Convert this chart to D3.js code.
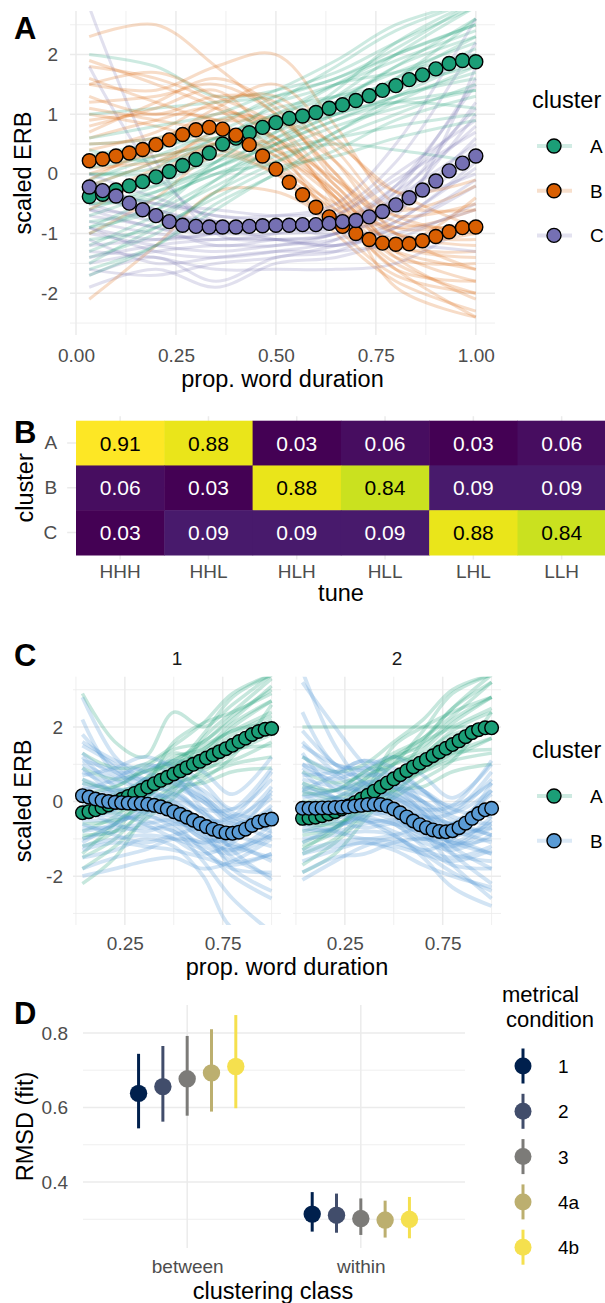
<!DOCTYPE html>
<html><head><meta charset="utf-8">
<script src="https://cdn.jsdelivr.net/npm/d3@7"></script>
<style>body{margin:0;background:#fff} svg{display:block} text{font-family:"Liberation Sans",Arial,Helvetica,sans-serif}</style>
</head><body><svg id="c" width="605" height="1303"></svg>
<script>
// ---------------- DATA ----------------
const clustersA = ["A","B","C"];
const clusterColorsA = ["#1B9E77","#D95F02","#7570B3"];
const tPts = d3.range(1,31).map(i=>i/30);
// Panel A mean trajectories (30 points each)
const meanA_A = [-0.38,-0.34,-0.27,-0.2,-0.13,-0.05,0.04,0.14,0.24,0.35,0.5,0.6,0.69,0.78,0.86,0.93,0.97,1.03,1.1,1.16,1.23,1.31,1.4,1.48,1.58,1.66,1.76,1.85,1.9,1.88];
const meanA_B = [0.22,0.25,0.3,0.35,0.41,0.49,0.57,0.66,0.74,0.78,0.75,0.65,0.49,0.3,0.08,-0.14,-0.35,-0.56,-0.72,-0.88,-1.0,-1.1,-1.16,-1.18,-1.17,-1.12,-1.05,-0.97,-0.9,-0.89];
const meanA_C = [-0.22,-0.28,-0.37,-0.49,-0.6,-0.7,-0.8,-0.86,-0.88,-0.89,-0.89,-0.89,-0.88,-0.87,-0.86,-0.86,-0.85,-0.85,-0.83,-0.8,-0.78,-0.72,-0.63,-0.52,-0.4,-0.27,-0.12,0.05,0.18,0.3];
// Individual trajectories (values at knotX)
const knotX = [0.033,0.2,0.35,0.5,0.65,0.8,1.0];
const bgA_A = [
 [2.0,1.8,1.3,1.4,1.7,2.2,2.8],[0.5,0.6,0.9,1.2,1.5,1.9,2.4],[-0.2,0.2,0.6,1.0,1.3,1.7,2.2],
 [-0.6,-0.2,0.3,0.8,1.2,1.8,2.6],[-1.0,-0.5,0.1,0.5,0.9,1.3,1.6],[-1.4,-1.0,-0.3,0.2,0.7,1.2,1.8],
 [-0.3,-0.1,0.4,0.9,1.1,1.4,2.0],[-1.6,-1.2,-0.6,0.0,0.4,0.9,1.3],[0.2,0.4,0.8,1.3,1.6,2.1,2.9],
 [-0.8,-0.6,-0.1,0.4,0.6,0.8,1.0],[0.0,0.0,0.2,0.6,1.0,1.5,2.1],[-1.2,-0.7,-0.2,0.3,0.5,0.4,0.2],
 [-0.5,-0.3,0.1,0.7,1.4,2.2,2.9],[1.0,1.1,1.2,1.3,1.6,2.0,2.5],[-0.9,-0.4,0.0,0.4,0.8,1.1,1.4],
 [-0.1,0.3,0.7,1.1,1.3,1.5,1.8],[-1.5,-0.9,-0.4,0.1,0.3,0.6,0.9],[0.3,0.5,0.6,0.9,1.2,1.6,2.6],
 [-1.3,-0.8,-0.1,0.6,1.1,1.6,2.3],[-0.7,-0.3,0.2,0.9,1.5,2.0,2.5],[-0.4,0.0,0.5,1.2,1.8,2.4,2.9],
 [0.1,0.3,0.5,0.8,1.0,1.3,1.7],[-1.1,-0.9,-0.3,0.5,1.0,1.2,1.1],[0.6,0.8,1.0,1.4,1.9,2.5,2.9],
 [-0.2,-0.2,0.1,0.5,0.9,1.2,1.4],[-0.9,-0.6,0.2,0.8,1.3,2.0,2.8],[0.4,0.2,0.4,0.7,1.2,1.8,2.3],
 [-1.7,-1.2,-0.5,0.0,0.6,1.0,1.5],[-0.5,-0.4,0.0,0.2,0.7,1.3,1.9],[0.0,0.1,0.6,1.0,1.5,1.7,2.0]];
const bgA_B = [
 [1.8,1.6,1.2,0.6,-0.3,-1.2,-1.3],[1.2,1.3,1.5,1.0,0.0,-0.9,-0.8],[0.6,0.9,1.1,0.6,-0.4,-1.4,-1.5],
 [0.2,0.5,0.8,0.3,-0.6,-1.5,-2.0],[-0.2,0.2,0.6,0.2,-0.7,-1.6,-2.4],[1.5,1.4,1.8,2.0,0.8,-0.5,-0.6],
 [0.9,1.0,0.9,0.1,-1.0,-1.8,-2.3],[-1.0,-0.4,0.3,0.0,-0.6,-1.1,-1.0],[-2.1,-1.2,-0.3,-0.3,-0.8,-1.3,-1.6],
 [0.0,0.4,1.0,0.8,-0.2,-1.0,-1.2],[1.0,0.8,0.5,0.1,-0.5,-0.9,-0.6],[0.4,0.7,1.2,1.3,0.4,-0.6,-0.2],
 [2.3,2.5,1.8,1.0,0.2,-0.7,-1.0],[-0.6,0.0,0.5,0.4,-0.4,-1.9,-2.4],[0.8,1.1,1.4,0.5,-0.8,-1.2,-0.4],
 [1.6,1.2,0.9,0.9,0.5,-0.3,-0.9],[1.3,1.0,1.3,1.2,0.2,-1.0,-1.6],[0.5,0.6,0.9,0.9,0.0,-1.3,-1.8],
 [0.1,0.2,0.4,0.0,-0.9,-1.7,-2.0],[1.9,1.5,1.1,0.4,-0.4,-1.0,-1.1],[-0.4,0.1,0.7,0.6,-0.2,-1.2,-1.4],
 [0.7,1.2,1.6,1.1,-0.1,-0.8,-0.9],[1.1,0.9,0.7,0.3,-0.3,-1.4,-2.1],[0.3,0.3,0.5,0.5,-0.1,-0.7,-0.5],
 [1.5,1.7,1.3,0.8,-0.5,-1.6,-1.8],[-0.1,0.5,1.1,1.5,0.6,-0.3,-0.1]];
const bgA_C = [
 [1.8,0.0,-0.8,-0.9,-1.0,-0.6,0.6],[2.8,0.2,-1.0,-1.1,-1.0,-0.4,1.2],[-0.3,-0.7,-0.8,-0.8,-0.8,-0.3,0.8],
 [-0.6,-0.9,-1.0,-1.0,-0.9,-0.2,1.5],[-1.0,-1.2,-1.3,-1.2,-1.1,-0.8,0.2],[-1.9,-1.6,-1.9,-1.5,-1.4,-1.1,-0.5],
 [-0.2,-0.5,-0.6,-0.7,-0.6,0.2,2.2],[-1.3,-1.4,-1.6,-1.6,-1.6,-1.5,-0.8],[-0.8,-1.0,-1.1,-1.0,-0.7,0.0,0.9],
 [-0.5,-0.8,-0.9,-1.1,-1.2,-0.9,-0.2],[-1.5,-1.3,-1.2,-1.2,-1.0,-0.5,0.4],[0.0,-0.4,-0.7,-0.7,-0.5,0.5,2.6],
 [-1.1,-1.5,-1.4,-1.3,-1.3,-1.2,-1.3],[-0.4,-0.6,-0.9,-0.9,-0.8,-0.5,0.0],[-1.7,-1.4,-1.8,-1.4,-1.3,-0.8,0.1],
 [-0.9,-1.1,-1.0,-0.8,-0.9,-0.7,1.8],[-0.7,-0.9,-1.2,-1.1,-1.0,-0.4,0.5],[-1.2,-1.1,-1.0,-0.9,-0.8,-0.2,1.1],
 [-0.3,-0.5,-0.7,-0.8,-0.9,-0.6,0.3],[-1.6,-1.7,-1.5,-1.4,-1.2,-0.9,-0.1],[-0.9,-1.3,-1.4,-1.3,-1.1,-0.3,1.6],
 [-0.1,-0.6,-0.8,-0.9,-0.7,-0.1,0.7],[-1.4,-1.2,-1.1,-1.1,-1.2,-1.0,-0.6],[-0.6,-0.7,-0.8,-0.9,-0.9,-0.5,1.0]];
const yTicksA = [-2,-1,0,1,2];
const xTicksA = [0,0.25,0.5,0.75,1];

// Panel B heatmap
const tunes = ["HHH","HHL","HLH","HLL","LHL","LLH"];
const rowsB = ["A","B","C"];
const propA = [0.91,0.88,0.03,0.06,0.03,0.06];
const propB = [0.06,0.03,0.88,0.84,0.09,0.09];
const propC = [0.03,0.09,0.09,0.09,0.88,0.84];

// Panel C
const facetsC = ["1","2"];
const clustersC = ["A","B"];
const clusterColorsC = ["#1B9E77","#5A9BD5"];
const meanC1_A = [-0.3,-0.27,-0.22,-0.16,-0.09,-0.02,0.06,0.14,0.22,0.3,0.39,0.48,0.57,0.65,0.74,0.82,0.91,1.0,1.08,1.17,1.25,1.34,1.42,1.51,1.61,1.7,1.8,1.88,1.94,1.96];
const meanC1_B = [0.16,0.12,0.07,0.03,0.0,-0.02,-0.03,-0.04,-0.05,-0.05,-0.07,-0.1,-0.14,-0.2,-0.27,-0.34,-0.42,-0.5,-0.59,-0.67,-0.74,-0.8,-0.84,-0.85,-0.82,-0.74,-0.64,-0.55,-0.5,-0.47];
const meanC2_A = [-0.45,-0.44,-0.42,-0.38,-0.33,-0.27,-0.2,-0.12,-0.03,0.07,0.17,0.28,0.39,0.5,0.61,0.72,0.83,0.93,1.03,1.13,1.23,1.33,1.43,1.53,1.63,1.74,1.85,1.93,1.98,1.98];
const meanC2_B = [-0.18,-0.18,-0.18,-0.17,-0.17,-0.16,-0.15,-0.14,-0.12,-0.1,-0.08,-0.07,-0.08,-0.12,-0.2,-0.3,-0.41,-0.52,-0.62,-0.7,-0.76,-0.8,-0.81,-0.78,-0.7,-0.58,-0.45,-0.32,-0.22,-0.18];
const bgC1_B = [
 [2.8,1.2,0.6,0.4,0.0,-0.6,-0.2],[2.2,0.8,0.9,1.0,0.5,-0.2,0.6],[1.5,1.0,0.5,0.2,-0.3,-0.9,-0.4],
 [1.0,0.6,0.3,-0.1,-0.6,-1.2,-0.9],[0.5,0.2,0.1,-0.3,-0.9,-1.6,-1.4],[0.0,-0.2,-0.1,-0.4,-1.0,-1.0,-0.3],
 [-0.5,-0.5,-0.4,-0.6,-1.3,-1.8,-1.9],[-1.0,-0.8,-0.7,-0.8,-1.6,-2.6,-3.5],[-1.5,-1.3,-1.0,-1.2,-2.0,-3.4,-3.6],
 [-2.0,-1.8,-1.6,-1.5,-1.8,-1.6,-1.0],[0.8,0.5,0.8,1.1,0.8,0.2,1.2],[-0.2,0.0,0.3,0.3,-0.4,-1.3,-2.1],
 [0.3,0.6,1.0,0.7,-0.2,-0.8,0.3],[-0.8,-0.6,-0.2,0.0,-0.5,-0.4,0.8],[1.2,0.4,0.0,-0.4,-0.8,-1.1,-1.6],
 [-1.2,-1.0,-0.9,-1.0,-1.3,-2.0,-2.6],[0.2,-0.1,-0.3,-0.7,-1.1,-0.7,0.1],[-0.4,-0.2,0.6,0.5,0.1,-0.4,-0.8],
 [1.8,0.9,0.4,0.0,-0.5,-0.8,-0.1],[1.3,0.7,0.6,0.6,0.1,-0.5,0.4],[0.6,0.3,0.2,0.1,-0.3,-0.7,-0.6],
 [0.9,0.2,-0.2,-0.5,-1.0,-1.3,-0.8],[-0.3,-0.4,-0.5,-0.8,-1.2,-1.4,-0.9],[-0.7,-0.7,-0.6,-0.5,-0.9,-1.2,-1.5],
 [-1.3,-1.1,-1.2,-1.3,-1.5,-1.7,-1.4],[-1.8,-1.5,-1.3,-1.0,-1.1,-1.3,-0.6],[0.1,0.3,0.4,0.6,0.3,-0.3,-0.5],
 [-0.1,-0.3,-0.6,-1.0,-1.4,-1.1,-0.2],[0.4,0.0,-0.1,-0.2,-0.7,-1.5,-2.0],[1.6,1.1,0.8,0.5,0.0,-0.4,0.2],
 [-0.6,-0.9,-1.1,-0.9,-0.7,-0.9,-1.2],[0.7,0.9,1.2,0.9,0.2,-0.5,-0.7],[-1.1,-0.6,-0.3,-0.2,-0.6,-1.0,-0.4],
 [0.3,-0.1,0.0,0.2,-0.2,-0.2,0.9],[-0.2,-0.6,-0.8,-0.6,-0.8,-1.8,-2.4],[1.1,0.8,0.2,-0.3,-0.5,-0.6,-1.0]];
const bgC1_A = [
 [2.9,1.6,1.2,2.4,2.0,2.6,3.4],[0.5,0.4,0.9,1.4,1.6,2.3,3.0],[-0.4,-0.2,0.4,1.0,1.3,2.0,2.7],
 [-1.0,-0.6,0.0,0.8,1.0,1.6,2.2],[-2.2,-1.5,-0.4,0.4,0.8,1.3,1.8],[-0.8,-0.4,0.2,0.6,1.7,2.4,3.3],
 [0.0,0.2,0.6,1.3,1.1,1.4,1.5],[-1.5,-1.0,-0.2,0.2,0.6,1.2,2.6],[0.2,0.0,0.3,0.9,1.8,2.8,3.4],
 [-0.6,-0.5,-0.1,0.4,0.5,0.8,0.9],[-1.2,-0.8,0.3,1.6,2.1,2.4,2.9],[0.9,0.6,0.8,1.0,1.4,1.9,2.1],
 [-0.3,0.0,0.6,1.1,1.5,1.9,2.4],[-1.8,-1.2,-0.5,0.1,0.9,1.6,2.0],[0.6,0.3,0.5,1.2,1.4,2.1,2.7],
 [-0.9,-0.8,-0.3,0.3,1.2,1.8,2.3],[-0.1,-0.3,0.1,0.7,0.9,1.1,1.6],[1.3,0.9,1.0,1.5,2.1,2.9,3.4],
 [-1.4,-0.6,0.1,0.5,0.7,1.0,1.2],[0.2,0.4,0.8,1.1,1.6,2.2,3.1]];
const bgC2_B = [
 [3.5,1.5,0.5,0.3,-0.2,-0.6,0.0],[2.4,1.0,0.9,0.8,0.3,-0.2,0.8],[1.6,0.8,0.4,0.2,-0.3,-0.9,-0.6],
 [1.0,0.5,0.2,0.0,-0.6,-1.1,-1.0],[0.5,0.1,0.0,-0.3,-0.8,-1.4,-1.6],[0.0,-0.3,-0.2,-0.4,-1.0,-0.9,-0.2],
 [-0.5,-0.6,-0.5,-0.6,-1.2,-1.7,-1.8],[-1.0,-0.9,-0.8,-0.9,-1.5,-2.3,-2.8],[-1.6,-1.3,-1.1,-1.3,-1.7,-2.0,-2.3],
 [-2.1,-1.6,-1.2,-1.0,-1.3,-1.5,-1.2],[0.9,0.6,0.9,1.2,0.7,0.1,1.0],[-0.2,0.1,0.4,0.4,-0.3,-1.2,-1.8],
 [0.3,0.7,1.1,0.6,-0.1,-0.7,0.5],[-0.8,-0.7,-0.3,0.1,-0.4,-0.3,0.6],[1.3,0.3,0.1,-0.3,-0.7,-1.0,-1.4],
 [-1.3,-1.1,-1.0,-1.1,-1.4,-1.9,-2.4],[0.2,-0.2,-0.4,-0.6,-1.0,-0.6,0.2],[-0.4,-0.3,0.5,0.4,0.0,-0.5,-0.9],
 [1.9,1.0,0.5,0.1,-0.4,-0.7,0.0],[1.2,0.8,0.7,0.7,0.0,-0.6,0.3],[0.6,0.4,0.3,0.1,-0.3,-0.8,-0.7],
 [0.8,0.1,-0.2,-0.5,-0.9,-1.2,-0.7],[-0.3,-0.4,-0.5,-0.8,-1.1,-1.3,-0.9],[-0.7,-0.8,-0.6,-0.5,-0.8,-1.1,-1.4],
 [-1.4,-1.2,-1.1,-1.2,-1.4,-1.6,-1.3],[-1.9,-1.5,-1.4,-1.1,-1.0,-1.2,-0.5],[0.1,0.3,0.5,0.6,0.3,-0.2,-0.4],
 [-0.1,-0.3,-0.5,-0.9,-1.3,-1.0,-0.1],[0.4,0.1,0.0,-0.2,-0.6,-1.4,-2.2],[1.5,1.0,0.8,0.4,0.0,-0.3,0.3],
 [-0.6,-0.8,-1.0,-0.9,-0.7,-0.8,-1.1],[0.7,0.8,1.1,0.9,0.3,-0.4,-0.6],[-1.1,-0.7,-0.4,-0.3,-0.6,-1.1,-0.4],
 [0.3,0.0,0.1,0.2,-0.2,-0.1,1.1],[-0.2,-0.5,-0.7,-0.6,-0.9,-1.7,-2.6],[1.0,0.7,0.2,-0.2,-0.4,-0.6,-0.9],
 [3.2,2.0,1.0,0.5,0.2,-0.1,0.5]];
const bgC2_A = [
 [2.0,2.0,2.0,2.0,2.0,2.0,2.0],[0.4,0.3,0.8,1.3,1.7,2.5,3.2],[-0.5,-0.3,0.3,1.0,1.4,2.1,2.8],
 [-1.1,-0.7,-0.1,0.7,1.1,1.6,2.1],[-1.9,-1.4,-0.5,0.3,0.8,1.3,1.7],[-0.8,-0.5,0.1,0.6,1.6,2.5,3.4],
 [0.0,0.1,0.6,1.2,1.0,1.3,1.4],[-1.4,-1.0,-0.3,0.1,0.6,1.1,2.4],[0.3,0.1,0.4,1.0,1.9,2.9,3.4],
 [-0.6,-0.6,-0.2,0.3,0.4,0.8,1.0],[-1.2,-0.8,0.2,1.5,2.0,2.4,2.8],[0.8,0.5,0.7,1.0,1.3,1.8,2.0],
 [-0.3,-0.1,0.5,1.1,1.6,2.0,2.5],[-1.7,-1.1,-0.4,0.2,0.9,1.5,2.1],[0.5,0.3,0.6,1.2,1.5,2.2,2.8],
 [-0.9,-0.7,-0.2,0.4,1.2,1.9,2.4],[-0.1,-0.2,0.1,0.7,0.9,1.2,1.7],[1.2,0.8,1.0,1.6,2.2,3.0,3.4],
 [-1.3,-0.7,0.0,0.5,0.8,1.1,1.3],[0.2,0.3,0.8,1.2,1.7,2.3,3.2]];
const yTicksC = [-2,0,2];
const xTicksC = [0.25,0.75];

// Panel D
const classesD = ["between","within"];
const conditionsD = ["1","2","3","4a","4b"];
const condColorsD = ["#00204D","#414D6B","#7C7B78","#BCAF6F","#F5E04E"];
const fitBetween = [0.638,0.656,0.677,0.693,0.710];
const lowBetween = [0.544,0.562,0.578,0.589,0.598];
const highBetween = [0.744,0.765,0.792,0.810,0.848];
const fitWithin = [0.314,0.311,0.302,0.298,0.300];
const lowWithin = [0.267,0.264,0.258,0.251,0.249];
const highWithin = [0.373,0.369,0.356,0.350,0.360];
const yTicksD = [0.4,0.6,0.8];

// ---------------- DRAWING ----------------
const svg = d3.select("#c");
const GRID = "#EBEBEB", TICK = "#4D4D4D";
const TFS = 19, AFS = 23.5, PFS = 31;
const hy = d => String(d);   // plain hyphen-minus like the reference

function grid(g, x0, x1, y0, y1, xs, ys, sx, sy, w) {
  xs.forEach(v => g.append("line").attr("x1", sx(v)).attr("x2", sx(v)).attr("y1", y0).attr("y2", y1)
    .attr("stroke", GRID).attr("stroke-width", w));
  ys.forEach(v => g.append("line").attr("y1", sy(v)).attr("y2", sy(v)).attr("x1", x0).attr("x2", x1)
    .attr("stroke", GRID).attr("stroke-width", w));
}
function styleAxis(a) {
  a.select(".domain").remove();
  a.selectAll(".tick line").remove();
  a.attr("font-family", null);
  a.selectAll("text").attr("font-size", TFS).attr("fill", TICK);
}
function panelLabel(t, y) {
  svg.append("text").attr("x", 14).attr("y", y).attr("font-size", PFS).attr("font-weight", "bold").text(t);
}
function yTitle(t, x, y) {
  svg.append("text").attr("transform", `translate(${x},${y}) rotate(-90)`).attr("text-anchor", "middle")
    .attr("font-size", AFS).text(t);
}
function xTitle(t, x, y) {
  svg.append("text").attr("x", x).attr("y", y).attr("text-anchor", "middle").attr("font-size", AFS).text(t);
}

// ===== Panel A =====
{
  const L = 70, R = 495, T = 11, B = 335;
  const x = d3.scaleLinear().domain([-0.015, 1.048]).range([L, R]);
  const y = d3.scaleLinear().domain([-2.7, 2.73]).range([B, T]);
  const g = svg.append("g");
  grid(g, L, R, T, B, [0.125,0.375,0.625,0.875], [-2.5,-1.5,-0.5,0.5,1.5,2.5], x, y, 0.8);
  grid(g, L, R, T, B, xTicksA, yTicksA, x, y, 1.5);
  svg.append("clipPath").attr("id", "clipA").append("rect").attr("x", L).attr("y", T).attr("width", R - L).attr("height", B - T);
  const lg = svg.append("g").attr("clip-path", "url(#clipA)");
  const line = d3.line().x((d, i) => x(knotX[i])).y(d => y(d)).curve(d3.curveCatmullRom.alpha(0.5));
  const bgs = [bgA_A, bgA_B, bgA_C];
  const maxN = d3.max(bgs, b => b.length);
  for (let k = 0; k < maxN; k++) {
    bgs.forEach((b, ci) => {
      if (b[k]) lg.append("path").attr("d", line(b[k])).attr("fill", "none")
        .attr("stroke", clusterColorsA[ci]).attr("stroke-opacity", 0.22).attr("stroke-width", 3);
    });
  }
  [meanA_A, meanA_B, meanA_C].forEach((m, ci) => {
    lg.append("g").selectAll("circle").data(m).join("circle")
      .attr("cx", (d, i) => x(tPts[i])).attr("cy", d => y(d)).attr("r", 7)
      .attr("fill", clusterColorsA[ci]).attr("stroke", "#000").attr("stroke-width", 1.4);
  });
  const ax = svg.append("g").attr("transform", `translate(0,${B})`)
    .call(d3.axisBottom(x).tickValues(xTicksA).tickFormat(d3.format(".2f")).tickSize(0).tickPadding(13.5));
  styleAxis(ax);
  const ay = svg.append("g").attr("transform", `translate(${L},0)`)
    .call(d3.axisLeft(y).tickValues(yTicksA).tickFormat(hy).tickSize(0).tickPadding(12));
  styleAxis(ay);
  xTitle("prop. word duration", (L + R) / 2, 387);
  yTitle("scaled ERB", 31, (T + B) / 2);
  panelLabel("A", 39);
  svg.append("text").attr("x", 532).attr("y", 108).attr("font-size", AFS).text("cluster");
  clustersA.forEach((c, i) => {
    const yy = 146 + i * 44.7;
    svg.append("line").attr("x1", 537).attr("x2", 572).attr("y1", yy).attr("y2", yy)
      .attr("stroke", clusterColorsA[i]).attr("stroke-opacity", 0.2).attr("stroke-width", 4);
    svg.append("circle").attr("cx", 554).attr("cy", yy).attr("r", 7).attr("fill", clusterColorsA[i])
      .attr("stroke", "#000").attr("stroke-width", 1.4);
    svg.append("text").attr("x", 590).attr("y", yy + 7).attr("font-size", TFS).attr("fill", "#000").text(c);
  });
}

// ===== Panel B =====
{
  const x = d3.scaleBand().domain(tunes).range([76, 76 + 6 * 88.3]);
  const y = d3.scaleBand().domain(rowsB).range([420.7, 555]);
  const L = 76 - 0.1 * x.bandwidth(), R = 605, T = 420.7 - 0.1 * y.bandwidth(), B = 555 + 0.1 * y.bandwidth();
  const g = svg.append("g");
  tunes.forEach(t => g.append("line").attr("x1", x(t) + x.bandwidth() / 2).attr("x2", x(t) + x.bandwidth() / 2)
    .attr("y1", T).attr("y2", B).attr("stroke", GRID).attr("stroke-width", 1.5));
  rowsB.forEach(r => g.append("line").attr("y1", y(r) + y.bandwidth() / 2).attr("y2", y(r) + y.bandwidth() / 2)
    .attr("x1", L).attr("x2", R).attr("stroke", GRID).attr("stroke-width", 1.5));
  const color = d3.scaleSequential(d3.interpolateViridis).domain([0.03, 0.91]);
  const cells = [];
  [propA, propB, propC].forEach((arr, ri) => arr.forEach((v, ci) => cells.push({ r: rowsB[ri], t: tunes[ci], v })));
  g.selectAll("rect.cell").data(cells).join("rect").attr("class", "cell")
    .attr("x", d => x(d.t)).attr("y", d => y(d.r)).attr("width", x.bandwidth() + 0.5).attr("height", y.bandwidth() + 0.5)
    .attr("fill", d => color(d.v));
  g.selectAll("text.val").data(cells).join("text").attr("class", "val")
    .attr("x", d => x(d.t) + x.bandwidth() / 2).attr("y", d => y(d.r) + y.bandwidth() / 2 + 7.5)
    .attr("text-anchor", "middle").attr("font-size", 21)
    .attr("fill", d => d.v > 0.5 ? "#000" : "#fff").text(d => d3.format(".2f")(d.v));
  const ax = svg.append("g").attr("transform", `translate(0,${B})`)
    .call(d3.axisBottom(x).tickSize(0).tickPadding(5));
  styleAxis(ax);
  const ay = svg.append("g").attr("transform", `translate(${L},0)`)
    .call(d3.axisLeft(y).tickSize(0).tickPadding(10));
  styleAxis(ay);
  xTitle("tune", (L + 614.8) / 2, 601);
  yTitle("cluster", 33, (420.7 + 555) / 2);
  panelLabel("B", 443);
}

// ===== Panel C =====
{
  const T = 676.7, B = 925;
  const y = d3.scaleLinear().domain([-3.31, 3.35]).range([B, T]);
  const ranges = [[73, 281], [293, 501]];
  const means = [[meanC1_A, meanC1_B], [meanC2_A, meanC2_B]];
  const bgs = [[bgC1_A, bgC1_B], [bgC2_A, bgC2_B]];
  facetsC.forEach((f, fi) => {
    const [L, R] = ranges[fi];
    const x = d3.scaleLinear().domain([-0.015, 1.048]).range([L, R]);
    const g = svg.append("g");
    grid(g, L, R, T, B, [0, 0.5, 1], [-3, -1, 1, 3], x, y, 0.8);
    grid(g, L, R, T, B, xTicksC, yTicksC, x, y, 1.5);
    svg.append("clipPath").attr("id", "clipC" + fi).append("rect").attr("x", L).attr("y", T).attr("width", R - L).attr("height", B - T);
    const lg = svg.append("g").attr("clip-path", `url(#clipC${fi})`);
    const line = d3.line().x((d, i) => x(knotX[i])).y(d => y(d)).curve(d3.curveCatmullRom.alpha(0.5));
    const [ba, bb] = bgs[fi];
    const n = Math.max(ba.length, bb.length);
    for (let k = 0; k < n; k++) {
      if (bb[k]) lg.append("path").attr("d", line(bb[k])).attr("fill", "none")
        .attr("stroke", clusterColorsC[1]).attr("stroke-opacity", 0.27).attr("stroke-width", 3.8);
      if (ba[k]) lg.append("path").attr("d", line(ba[k])).attr("fill", "none")
        .attr("stroke", clusterColorsC[0]).attr("stroke-opacity", 0.25).attr("stroke-width", 3.5);
    }
    means[fi].forEach((m, ci) => {
      svg.append("g").selectAll("circle").data(m).join("circle")
        .attr("cx", (d, i) => x(tPts[i])).attr("cy", d => y(d)).attr("r", 6.8)
        .attr("fill", clusterColorsC[ci]).attr("stroke", "#000").attr("stroke-width", 1.4);
    });
    const ax = svg.append("g").attr("transform", `translate(0,${B})`)
      .call(d3.axisBottom(x).tickValues(xTicksC).tickFormat(d3.format(".2f")).tickSize(0).tickPadding(11.5));
    styleAxis(ax);
    if (fi === 0) {
      const ay = svg.append("g").attr("transform", `translate(${L},0)`)
        .call(d3.axisLeft(y).tickValues(yTicksC).tickFormat(hy).tickSize(0).tickPadding(10));
      styleAxis(ay);
    }
    svg.append("text").attr("x", (L + R) / 2).attr("y", 665).attr("text-anchor", "middle")
      .attr("font-size", TFS).attr("fill", "#1A1A1A").text(f);
  });
  xTitle("prop. word duration", 287, 975);
  yTitle("scaled ERB", 31, (T + B) / 2);
  panelLabel("C", 666);
  svg.append("text").attr("x", 532).attr("y", 758).attr("font-size", AFS).text("cluster");
  clustersC.forEach((c, i) => {
    const yy = 796 + i * 44.7;
    svg.append("line").attr("x1", 537).attr("x2", 572).attr("y1", yy).attr("y2", yy)
      .attr("stroke", clusterColorsC[i]).attr("stroke-opacity", 0.22).attr("stroke-width", 4);
    svg.append("circle").attr("cx", 554).attr("cy", yy).attr("r", 7).attr("fill", clusterColorsC[i])
      .attr("stroke", "#000").attr("stroke-width", 1.4);
    svg.append("text").attr("x", 590).attr("y", yy + 7).attr("font-size", TFS).text(c);
  });
}

// ===== Panel D =====
{
  const L = 83, R = 465, T = 1005, B = 1248;
  const x = d3.scalePoint().domain(classesD).range([L, R]).padding(0.6);
  const y = d3.scaleLinear().domain([0.223, 0.875]).range([B, T]);
  const dodge = x.step() * 0.14;
  const g = svg.append("g");
  grid(g, L, R, T, B, [], [0.3, 0.5, 0.7], x, y, 0.8);
  grid(g, L, R, T, B, classesD, yTicksD, x, y, 1.5);
  const rows = [];
  conditionsD.forEach((c, i) => {
    rows.push({ cls: "between", i, fit: fitBetween[i], lo: lowBetween[i], hi: highBetween[i] });
    rows.push({ cls: "within", i, fit: fitWithin[i], lo: lowWithin[i], hi: highWithin[i] });
  });
  const cx = d => x(d.cls) + (d.i - 2) * dodge;
  g.selectAll("line.err").data(rows).join("line").attr("class", "err")
    .attr("x1", cx).attr("x2", cx).attr("y1", d => y(d.lo)).attr("y2", d => y(d.hi))
    .attr("stroke", d => condColorsD[d.i]).attr("stroke-width", 3);
  g.selectAll("circle").data(rows).join("circle")
    .attr("cx", cx).attr("cy", d => y(d.fit)).attr("r", 8.7).attr("fill", d => condColorsD[d.i]);
  const ax = svg.append("g").attr("transform", `translate(0,${B})`)
    .call(d3.axisBottom(x).tickSize(0).tickPadding(12));
  styleAxis(ax);
  const ay = svg.append("g").attr("transform", `translate(${L},0)`)
    .call(d3.axisLeft(y).tickValues(yTicksD).tickFormat(d3.format(".1f")).tickSize(0).tickPadding(15));
  styleAxis(ay);
  xTitle("clustering class", 273, 1299);
  yTitle("RMSD (fit)", 33, (T + B) / 2);
  panelLabel("D", 1024);
  svg.append("text").attr("x", 502).attr("y", 1002).attr("font-size", 22).text("metrical");
  svg.append("text").attr("x", 506).attr("y", 1027).attr("font-size", 22).text("condition");
  conditionsD.forEach((c, i) => {
    const yy = 1066 + i * 45.3;
    svg.append("line").attr("x1", 523).attr("x2", 523).attr("y1", yy - 17.5).attr("y2", yy + 17.5)
      .attr("stroke", condColorsD[i]).attr("stroke-width", 3);
    svg.append("circle").attr("cx", 523).attr("cy", yy).attr("r", 8.5).attr("fill", condColorsD[i]);
    svg.append("text").attr("x", 558).attr("y", yy + 7).attr("font-size", TFS).text(c);
  });
}
</script></body></html>
